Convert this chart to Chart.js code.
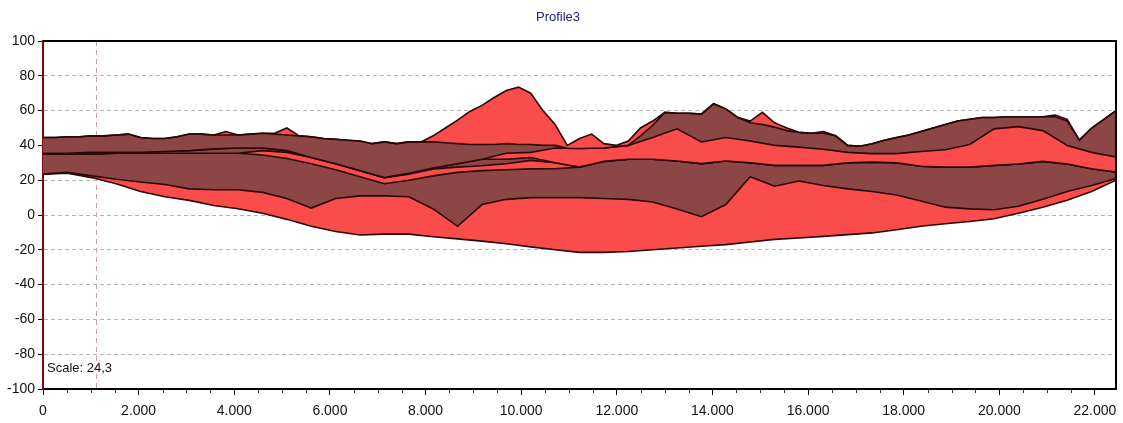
<!DOCTYPE html>
<html>
<head>
<meta charset="utf-8">
<script src="https://cdn.jsdelivr.net/npm/chart.js@4.4.1/dist/chart.umd.min.js"></script>
<style>
  html, body { margin: 0; padding: 0; background: #fff; }
  #wrap { width: 1123px; height: 423px; }
</style>
</head>
<body>
<div id="wrap"><canvas id="profile" width="1123" height="423"></canvas></div>
<script>
// Profile distances (m)
const topoStations = [0,255,510,765,1020,1275,1530,1785,2040,2295,2550,2805,3060,3315,3570,3825,4080,4335,4590,4845,5100,5355,5610,5865,6120,6375,6630,6885,7140,7395,7650,7905,8160,8415,8670,8925,9180,9435,9690,9945,10200,10455,10710,10965,11220,11475,11730,11985,12240,12495,12750,13005,13260,13515,13770,14025,14280,14535,14790,15045,15300,15555,15810,16065,16320,16575,16830,17085,17340,17595,17850,18105,18360,18615,18870,19125,19380,19635,19890,20145,20400,20655,20910,21165,21420,21675,21930,22185,22440];
const stations = [0,510,1020,1530,2040,2550,3060,3570,4080,4590,5100,5610,6120,6630,7140,7650,8160,8670,9180,9690,10200,10710,11220,11730,12240,12750,13260,13770,14280,14790,15300,15810,16320,16830,17340,17850,18360,18870,19380,19890,20400,20910,21420,21930,22440];

// Ground surface and horizons (elevation)
const ground = [44.5,44.5,45,45,45.5,45.5,46,46.5,44.5,44, 44,45,46.5,46.5,46,48,46,46.5,47,47, 50,45.5,45,44,43.5,43,42.5,41,42,41, 42,42,45.5,50,54.5,59.5,63,67.5,71.5,73.5, 70,60,52,40,44,46.5,41,40,42.5,50, 54,59,58.5,58.5,58,64,61,56,54,59, 53,50,47.5,47,48,45.5,40,39.5,41,43, 44.5,46,48,50,52,54,55,56,56,56.5, 56.5,56.5,56.5,57.5,55,43,50,55,60];
const horizon1 = [44.5,44.5,45,45,45.5,45.5,46,46.5,44.5,44, 44,45,46.5,46.5,46,46,46,46.5,47,46.5, 46,45.5,45,44,43.5,43,42.5,41,42,41, 42,42,42,41.5,41,40.5,40.5,40.5,41,40.5, 40.5,40,40,38.4,38.2,38.4,38.5,39.3,40,45.5, 51.5,59,58.5,58.5,58,64,61,56,53,52, 50.5,48.5,47.5,47,47,45.5,40,39.5,41,43, 44.5,46,48,50,52,54,55,56,56,56.5, 56.5,56.5,56.5,56.5,54,43,50,55,60];
const horizon2 = [35.5,35.5,36,36,36,36.5,37,38,38.5,38.5, 37,33,29.5,25.5,21.5,24,27,29.5,32,35.5, 36,38.5,38.2,38.5,40,44.5,49.5,42,44.5,42.5, 40,39,37.8,36,35.3,35.3,36.5,37.5,40.5,49.5, 50.8,48.5,40,36,33.3];
const horizon3 = [35.5,35.5,36,36,36,36.5,37,38,38.5,38.5, 37,33,29.5,25.5,21.5,24,27,29.5,32,32, 33,30,27.5,30.8,32,32,31,29.5,31,30, 28.5,28.5,28.5,30,30.4,30,28,27.5,27.5,28.5, 29.3,30.8,29.3,26.6,24.7];
const horizon4 = [35,35,35,35.5,35.5,35.5,35.5,35.5,35.5,37, 36,33,29.5,25.5,21.5,23.5,26.5,27.5,28.3,29.5, 31.4,30,27.5,30.8,32,32,31,29.5,31,30, 28.5,28.5,28.5,30,30.4,30,28,27.5,27.5,28.5, 29.3,30.8,29.3,26.6,24.7];
const horizon5 = [35,35,35,35.5,35.5,35.5,35.5,35.5,35.5,34.5, 32.5,29.5,26,22,18,20,22.5,24.5,25.5,26, 26.5,26.6,27.5,30.8,32,32,31,29.5,31,30, 28.5,28.5,28.5,30,30.4,30,28,27.5,27.5,28.5, 29.3,30.8,29.3,26.6,24.7];
const horizon6 = [23.5,24.5,22.5,20.5,19,17.5,15,14.5,14.5,13, 9.5,4,9.5,11,11,10.5,3.5,-6.5,6,9, 10,10,10,9.5,9,7.5,3.5,-1,6,22, 16.5,19.5,17,15,13.5,11.5,8,4.5,3.5,3, 5,9,13.5,17,21];
const horizon7 = [23.5,24,21.5,18,13.5,10.5,8.4,5.5,3.6,1, -2.5,-6.5,-9.5,-11.5,-11,-11,-12.5,-13.7,-15,-16.5, -18.3,-20,-21.5,-21.5,-21,-20,-19,-18,-17,-15.5, -14,-13.2,-12.3,-11.3,-10.3,-8.5,-6.5,-5,-3.7,-2.2, 1,4.5,8.5,13.5,20];

const xTicks = [0,2000,4000,6000,8000,10000,12000,14000,16000,18000,20000,22000];
const yTicks = [-100,-80,-60,-40,-20,0,20,40,60,80,100];
const chartTitle = 'Profile3';
const scaleLabel = 'Scale: 24,3';
const cursorAt = 1110;

const RED = '#fb4c4c';
const BROWN = '#8d4646';
const EDGE = '#2a0808';
const FONT = "'Liberation Sans', Arial, sans-serif";

const toPoints = (xs, ys) => xs.map((x, i) => ({ x, y: ys[i] }));

const layerDefs = [
  { xs: topoStations, ys: ground,   color: null },
  { xs: topoStations, ys: horizon1, color: RED },
  { xs: stations,     ys: horizon2, color: BROWN },
  { xs: stations,     ys: horizon3, color: RED },
  { xs: stations,     ys: horizon4, color: BROWN },
  { xs: stations,     ys: horizon5, color: RED },
  { xs: stations,     ys: horizon6, color: BROWN },
  { xs: stations,     ys: horizon7, color: RED }
];

const datasets = layerDefs.map(d => ({
  data: toPoints(d.xs, d.ys),
  fill: d.color ? '-1' : false,
  backgroundColor: d.color || 'transparent',
  borderColor: EDGE,
  borderWidth: 1.6,
  pointRadius: 0,
  tension: 0
}));

// Cursor line, frame, minor ticks and scale note
const decorations = {
  id: 'decorations',
  beforeDatasetsDraw(chart) {
    const { ctx, chartArea: a, scales: { x } } = chart;
    const cx = Math.round(x.getPixelForValue(cursorAt)) + 0.5;
    ctx.save();
    ctx.strokeStyle = '#d99a9a';
    ctx.lineWidth = 1;
    ctx.setLineDash([5, 4]);
    ctx.beginPath();
    ctx.moveTo(cx, a.top);
    ctx.lineTo(cx, a.bottom);
    ctx.stroke();
    ctx.restore();
  },
  afterDraw(chart) {
    const { ctx, chartArea: a, scales: { x } } = chart;
    ctx.save();
    ctx.strokeStyle = '#000';
    ctx.lineWidth = 2;
    ctx.beginPath();
    ctx.moveTo(a.left, a.top);
    ctx.lineTo(a.right, a.top);
    ctx.lineTo(a.right, a.bottom);
    ctx.stroke();

    ctx.lineWidth = 1;
    ctx.strokeStyle = '#333';
    for (let v = 500; v < x.max; v += 500) {
      if (v % 2000 === 0) continue;
      const px = Math.round(x.getPixelForValue(v)) + 0.5;
      ctx.beginPath();
      ctx.moveTo(px, a.bottom + 1);
      ctx.lineTo(px, a.bottom + 4);
      ctx.stroke();
    }

    ctx.fillStyle = '#111';
    ctx.font = '13px ' + FONT;
    ctx.textBaseline = 'middle';
    ctx.textAlign = 'left';
    ctx.fillText(scaleLabel, a.left + 4, a.bottom - 21);
    ctx.restore();
  }
};

new Chart(document.getElementById('profile'), {
  type: 'line',
  data: { datasets },
  options: {
    responsive: false,
    animation: false,
    events: [],
    layout: { padding: { left: 0, right: 7, top: 0, bottom: 0 } },
    plugins: {
      legend: { display: false },
      tooltip: { enabled: false },
      title: {
        display: true,
        text: chartTitle,
        color: '#22227a',
        font: { family: FONT, size: 13, weight: 'normal' },
        padding: { top: 10, bottom: 15.4 }
      },
      filler: { propagate: false }
    },
    scales: {
      x: {
        type: 'linear',
        min: 0,
        max: 22440,
        afterBuildTicks: s => { s.ticks = xTicks.map(v => ({ value: v })); },
        afterFit: s => { s.height = 34; s.paddingRight = 0; },
        ticks: {
          autoSkip: false,
          maxRotation: 0,
          padding: 8,
          color: '#111',
          font: { family: FONT, size: 14 },
          callback: v => v === 0 ? '0' : (v / 1000) + '.000'
        },
        grid: { drawOnChartArea: false, drawTicks: true, tickLength: 6, tickColor: '#000' },
        border: { color: '#000', width: 2 }
      },
      y: {
        min: -100,
        max: 100,
        afterFit: s => { s.width = 43; },
        afterBuildTicks: s => { s.ticks = yTicks.map(v => ({ value: v })); },
        ticks: {
          padding: 3,
          color: '#111',
          font: { family: FONT, size: 14 },
          callback: v => String(v)
        },
        grid: { color: '#b3b3b3', lineWidth: 1, tickLength: 5, tickColor: '#000' },
        border: { color: '#7a0a0a', width: 2, dash: [4, 3] }
      }
    }
  },
  plugins: [decorations]
});
</script>
</body>
</html>
